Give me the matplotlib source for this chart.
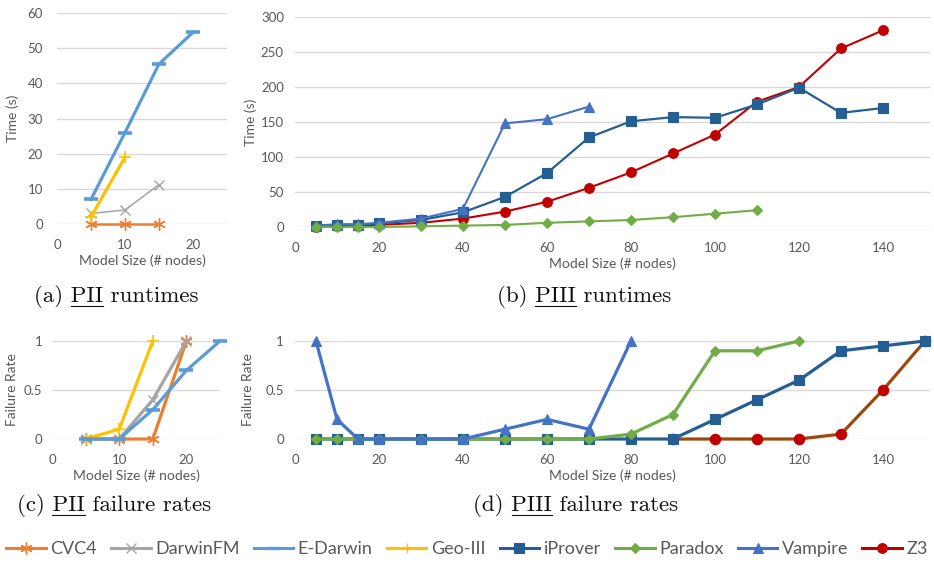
"""Runtimes and failure rates of the solvers on PII / PIII models."""
import matplotlib

matplotlib.use("Agg")
import matplotlib.pyplot as plt
from matplotlib.lines import Line2D

# ---- data -------------------------------------------------------------
# (a) PII runtimes (s)
pii_cvc4_x = [5, 10, 15]
pii_cvc4_t = [0, 0, 0]
pii_darwin_x = [5, 10, 15]
pii_darwin_t = [3, 4, 11.2]
pii_edarwin_x = [5, 10, 15, 20]
pii_edarwin_t = [7, 26, 45.5, 54.5]
pii_geo_x = [5, 10]
pii_geo_t = [2, 19]

# (b) PIII runtimes (s)
piii_x = [5, 10, 15, 20, 30, 40, 50, 60, 70, 80, 90, 100, 110, 120, 130, 140]
piii_iprover_t = [2, 3, 3, 5, 10, 21, 43, 77, 128, 151, 157, 156, 175, 199, 163, 170]
piii_z3_t = [0, 1, 2, 3, 6, 12, 22, 36, 56, 78, 105, 132, 179, 200, 255, 281]
piii_paradox_x = [5, 10, 15, 20, 30, 40, 50, 60, 70, 80, 90, 100, 110]
piii_paradox_t = [0, 0, 0, 0, 1, 2, 3, 6, 8, 10, 14, 19, 24]
piii_vampire_x = [5, 10, 15, 20, 30, 40, 50, 60, 70]
piii_vampire_t = [2, 4, 4, 6, 12, 26, 148, 154, 172]

# (c) PII failure rates
fr_cvc4_x = [5, 10, 15, 20]
fr_cvc4 = [0, 0, 0, 1]
fr_darwin_x = [5, 10, 15, 20]
fr_darwin = [0, 0, 0.4, 1]
fr_edarwin_x = [5, 10, 15, 20, 25]
fr_edarwin = [0, 0, 0.3, 0.7, 1]
fr_geo_x = [5, 10, 15]
fr_geo = [0, 0.1, 1]

# (d) PIII failure rates
fr3_iprover_x = [5, 10, 15, 20, 30, 40, 50, 60, 70, 80, 90, 100, 110, 120, 130, 140, 150]
fr3_iprover = [0, 0, 0, 0, 0, 0, 0, 0, 0, 0, 0, 0.2, 0.4, 0.6, 0.9, 0.95, 1]
fr3_z3_x = [90, 100, 110, 120, 130, 140, 150]
fr3_z3 = [0, 0, 0, 0, 0.05, 0.5, 1]
fr3_paradox_x = [5, 10, 15, 20, 30, 40, 50, 60, 70, 80, 90, 100, 110, 120]
fr3_paradox = [0, 0, 0, 0, 0, 0, 0, 0, 0, 0.05, 0.25, 0.9, 0.9, 1]
fr3_vampire_x = [5, 10, 15, 20, 30, 40, 50, 60, 70, 80]
fr3_vampire = [1, 0.2, 0, 0, 0, 0, 0.1, 0.2, 0.1, 1]

solvers = ["CVC4", "DarwinFM", "E-Darwin", "Geo-III", "iProver", "Paradox", "Vampire", "Z3"]

# ---- style ------------------------------------------------------------
COR = {"CVC4": "#ED7D31", "DarwinFM": "#A5A5A5", "E-Darwin": "#5B9BD5",
       "Geo-III": "#FFC000", "iProver": "#255E91", "Paradox": "#70AD47",
       "Vampire": "#4472C4", "Z3": "#C00000"}
Z3_LINHA_D = "#9E480E"
MARK = {"CVC4": (6, 2, 0), "DarwinFM": "x", "E-Darwin": "_", "Geo-III": "+",
        "iProver": "s", "Paradox": "D", "Vampire": "^", "Z3": "o"}
MSIZE = {"CVC4": 9, "DarwinFM": 7, "E-Darwin": 9, "Geo-III": 8,
         "iProver": 6.5, "Paradox": 5, "Vampire": 6.5, "Z3": 7}
TXT = "#595959"
GRID = "#D9D9D9"

plt.rcParams["font.family"] = ["Lato", "DejaVu Sans"]

W, H = 934, 563
fig = plt.figure(figsize=(W / 100, H / 100), dpi=100)


def eixos(l, r, t, b):
    return fig.add_axes([l / W, 1 - b / H, (r - l) / W, (b - t) / H])


def estilo(ax, xlim, ylim, xticks, yticks, ylabel, xpad, ypad, ylabpad, ylabels=None):
    ax.set_xlim(*xlim)
    ax.set_ylim(*ylim)
    ax.set_xticks(xticks)
    ax.set_yticks(yticks)
    if ylabels is not None:
        ax.set_yticklabels(ylabels)
    for s in ax.spines.values():
        s.set_visible(False)
    ax.grid(axis="y", color=GRID, linewidth=1.0)
    ax.set_axisbelow(True)
    ax.tick_params(length=0, labelsize=9.5, labelcolor=TXT)
    ax.tick_params(axis="x", pad=xpad)
    ax.tick_params(axis="y", pad=ypad)
    ax.set_xlabel("Model Size (# nodes)", fontsize=10, color=TXT, labelpad=2)
    ax.set_ylabel(ylabel, fontsize=10, color=TXT, labelpad=ylabpad)


def serie(ax, nome, x, y, lw, ms=None, cor_linha=None, mew=None):
    cor = COR[nome]
    m = MARK[nome]
    if mew is None:
        mew = 2.2 if m in ("_", "+", "x") or isinstance(m, tuple) else 0.8
    ax.plot(x, y, color=cor_linha or cor, linewidth=lw, marker=m,
            markersize=ms or MSIZE[nome], markerfacecolor=cor, markeredgecolor=cor,
            markeredgewidth=mew, clip_on=False)


# (a)
ax_a = eixos(57, 227, 13, 224)
serie(ax_a, "CVC4", pii_cvc4_x, pii_cvc4_t, 1.8, mew=1.0)
serie(ax_a, "DarwinFM", pii_darwin_x, pii_darwin_t, 1.1, mew=1.0)
serie(ax_a, "E-Darwin", pii_edarwin_x, pii_edarwin_t, 2.3, ms=10, mew=2.6)
serie(ax_a, "Geo-III", pii_geo_x, pii_geo_t, 2.3, mew=1.2)
estilo(ax_a, (0, 25), (0, 60), [0, 10, 20], range(0, 61, 10), "Time (s)", 11, 10, 6)

# (b)
ax_b = eixos(295, 930, 17, 227)
serie(ax_b, "Z3", piii_x, piii_z3_t, 1.5)
serie(ax_b, "iProver", piii_x, piii_iprover_t, 1.6)
serie(ax_b, "Vampire", piii_vampire_x, piii_vampire_t, 1.5)
serie(ax_b, "Paradox", piii_paradox_x, piii_paradox_t, 1.5)
estilo(ax_b, (0, 151.2), (0, 300), range(0, 141, 20), range(0, 301, 50), "Time (s)", 11, 8, 3)

# (c)
ax_c = eixos(52, 220, 341, 439)
serie(ax_c, "CVC4", fr_cvc4_x, fr_cvc4, 2.3, mew=1.0)
serie(ax_c, "DarwinFM", fr_darwin_x, fr_darwin, 2.3, mew=1.0)
serie(ax_c, "Geo-III", fr_geo_x, fr_geo, 2.3, mew=1.2)
serie(ax_c, "E-Darwin", fr_edarwin_x, fr_edarwin, 2.3, ms=10, mew=2.6)
estilo(ax_c, (0, 25), (0, 1), [0, 10, 20], [0, 0.5, 1], "Failure Rate", 11, 7, 4,
       ylabels=["0", "0.5", "1"])

# (d)
ax_d = eixos(295, 930, 341, 439)
serie(ax_d, "Z3", fr3_z3_x, fr3_z3, 2.3, ms=7.5, cor_linha=Z3_LINHA_D)
serie(ax_d, "iProver", fr3_iprover_x, fr3_iprover, 2.3, ms=7)
serie(ax_d, "Paradox", fr3_paradox_x, fr3_paradox, 2.3, ms=5.5)
serie(ax_d, "Vampire", fr3_vampire_x, fr3_vampire, 2.3, ms=7)
estilo(ax_d, (0, 151.2), (0, 1), range(0, 141, 20), [0, 0.5, 1], "Failure Rate", 11, 8, 8,
       ylabels=["0", "0.5", "1"])

# ---- captions ---------------------------------------------------------
renderer = fig.canvas.get_renderer()
CAP = dict(fontsize=16.5, family="cmr10", color="#111111")


def legenda_sub(cx, base, prefixo, sub, resto):
    txt = fig.text(cx / W, 1 - base / H, f"{prefixo} {sub} {resto}",
                   ha="center", va="baseline", **CAP)
    bb = txt.get_window_extent(renderer)
    tmp = fig.text(0, 0, f"{prefixo} {sub}", **CAP)
    w_ate = tmp.get_window_extent(renderer).width
    tmp.set_text(sub)
    w_sub = tmp.get_window_extent(renderer).width
    tmp.remove()
    x1 = bb.x0 + w_ate
    x0 = x1 - w_sub
    y = 1 - (base + 4) / H
    fig.add_artist(Line2D([x0 / W, x1 / W], [y, y], transform=fig.transFigure,
                          color="#111111", linewidth=0.8))


legenda_sub(116, 302, "(a)", "PII", "runtimes")
legenda_sub(584, 302, "(b)", "PIII", "runtimes")
legenda_sub(114, 511, "(c)", "PII", "failure rates")
legenda_sub(576, 511, "(d)", "PIII", "failure rates")

# ---- shared legend ----------------------------------------------------
handles = []
for nome in solvers:
    m = MARK[nome]
    fino = m in ("_", "+", "x") or isinstance(m, tuple)
    handles.append(Line2D([], [], color=COR[nome], linewidth=2.2, marker=m,
                          markersize=MSIZE[nome] * (0.95 if fino else 1.0),
                          markerfacecolor=COR[nome], markeredgecolor=COR[nome],
                          markeredgewidth=1.0 if fino and m != "_" else (2.4 if m == "_" else 0.8)))
fig.legend(handles, solvers, loc="center", ncol=8, mode="expand",
           bbox_to_anchor=(6 / W, 1 - 560 / H, 922 / W, 22 / H), frameon=False,
           fontsize=13, labelcolor=TXT, handlelength=2.2, handletextpad=0.25,
           borderaxespad=0, borderpad=0)

fig.savefig("out.png", dpi=100)
